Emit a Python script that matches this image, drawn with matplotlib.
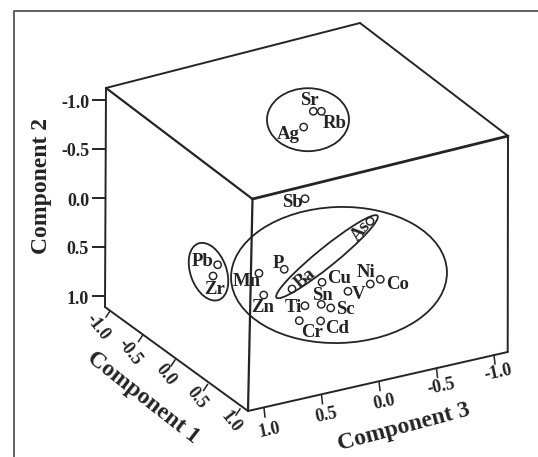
import numpy as np
import matplotlib.pyplot as plt
from matplotlib.patches import Ellipse

plt.rcParams['font.family'] = ['Liberation Serif', 'DejaVu Serif']
plt.rcParams['font.weight'] = 'bold'

INK = '#262324'

# element loadings
elements = ['Sb', 'As', 'Pb', 'Zr', 'Mn', 'P', 'Ba', 'Zn', 'Cu', 'Sn', 'Ti', 'Sc',
            'Cr', 'Cd', 'V', 'Ni', 'Co', 'Sr', 'Rb', 'Ag']
comp1 = [0.0, 0.2, -0.5, -0.5, 0.5, 0.5, 0.6, 0.6, 0.6, 0.7, 0.7, 0.7,
         0.8, 0.8, 0.7, 0.7, 0.7, -0.5, -0.5, -0.5]
comp2 = [-0.207, 0.046, 0.588, 0.692, 0.119, 0.138, 0.292, 0.287, 0.294, 0.452, 0.428, 0.511,
         0.502, 0.555, 0.382, 0.360, 0.336, -0.753, -0.734, -0.615]
comp3 = [0.0, -0.452, 0.477, 0.517, 0.683, 0.463, 0.452, 0.698, 0.191, 0.254, 0.396, 0.172,
         0.502, 0.316, 0.022, -0.172, -0.259, -0.355, -0.425, -0.271]

tick_values = [-1.0, -0.5, 0.0, 0.5, 1.0]
tick_labels = ['-1.0', '-0.5', '0.0', '0.5', '1.0']

# label offset from its point, in pixels (dx, dy, rotation)
label_offsets = {
    'Sb': (-13, 4, 0), 'As': (-9, 10, 50), 'Pb': (-15, -3, 0), 'Zr': (2, 13, 0),
    'Mn': (-12, 8, 0), 'P': (-6, -6, 0), 'Ba': (13, -10, 40), 'Zn': (-1, 12, 0),
    'Cu': (17, -4, 0), 'Sn': (1, -9, 0), 'Ti': (-12, 2, 0), 'Sc': (15, 2, 0),
    'Cr': (13, 12, 0), 'Cd': (16, 8, 0), 'V': (11, 3, 0), 'Ni': (-4, -12, 0),
    'Co': (17, 5, 0), 'Sr': (-4, -11, 0), 'Rb': (13, 12, 0), 'Ag': (-15, 7, 0),
}


def project(c1, c2, c3):
    # oblique view of the loading space onto the page
    c1, c2, c3 = np.asarray(c1), np.asarray(c2), np.asarray(c3)
    return 305 + 65 * c1 - 115 * c3, 219 + 49 * c1 + 98 * c2 + 26.5 * c3


def along(start, end, v):
    # position of tick value v between the -1 and +1 ends of an edge
    t = (v + 1) / 2
    return start[0] + t * (end[0] - start[0]), start[1] + t * (end[1] - start[1])


fig = plt.figure(figsize=(5.38, 4.57), dpi=100)
ax = fig.add_axes([0, 0, 1, 1])
ax.set_xlim(0, 538)
ax.set_ylim(457, 0)
ax.axis('off')

# outer frame
ax.plot([13.5, 13.5, 538], [457, 11, 11], color='#555555', lw=1.3)

# box edges
top_left, top_back, top_right, top_front = (106, 88), (360, 23), (508, 136), (252.5, 199)
bot_left, bot_front, bot_right = (105, 307), (248, 411), (507.7, 352)
edges = [(top_left, top_back, 1.4), (top_back, top_right, 1.4), (top_right, top_front, 2.0),
         (top_front, top_left, 1.6), (top_left, bot_left, 1.4), (bot_left, bot_front, 1.4),
         (bot_front, bot_right, 1.4), (bot_right, top_right, 1.4), (top_front, bot_front, 1.6)]
for a, b, width in edges:
    ax.plot([a[0], b[0]], [a[1], b[1]], color=INK, lw=width, solid_capstyle='round')

# Component 2 ticks
for v, lab in zip(tick_values, tick_labels):
    y = 198 + 98 * v
    ax.plot([93, 104], [y, y], color=INK, lw=1.4)
    ax.text(89, y + 3, lab, ha='right', va='center', fontsize=13, color=INK)

# Component 1 ticks
label_pos1 = [(98, 327), (130, 352), (166, 375), (197, 398), (231, 422)]
for v, lab, pos in zip(tick_values, tick_labels, label_pos1):
    x, y = along((110, 311), (240, 409), v)
    ax.plot([x, x - 4], [y, y + 6], color=INK, lw=1.1)
    ax.text(pos[0], pos[1], lab, ha='center', va='center', rotation=-52,
            rotation_mode='anchor', fontsize=13, color=INK)

# Component 3 ticks
label_pos3 = [(498, 373), (441, 387), (384, 402), (326, 415), (269, 430)]
for v, lab, pos in zip(tick_values, tick_labels, label_pos3):
    x, y = along((494, 355), (264, 408), v)
    ax.plot([x, x + 1], [y, y + 9], color=INK, lw=1.1)
    ax.text(pos[0], pos[1], lab, ha='center', va='center', rotation=12,
            rotation_mode='anchor', fontsize=13, color=INK)

# axis titles
ax.text(41, 186, 'Component 2', rotation=90, ha='center', va='center', fontsize=17, color=INK)
ax.text(143, 398, 'Component 1', rotation=-38, ha='center', va='center',
        rotation_mode='anchor', fontsize=17, color=INK)
ax.text(404, 427, 'Component 3', rotation=15, ha='center', va='center',
        rotation_mode='anchor', fontsize=17, color=INK)

# cluster outlines
clusters = [((339, 275), 216, 136, -2), ((327, 256.7), 130, 19, -39),
            ((208.5, 271.7), 60, 36, 70), ((308, 119.7), 82, 63, 0)]
for centre, w, h, angle in clusters:
    ax.add_patch(Ellipse(centre, w, h, angle=angle, fill=False, ec=INK, lw=1.3))

# points and their labels
px, py = project(comp1, comp2, comp3)
ax.scatter(px, py, s=28, facecolors='none', edgecolors=INK, linewidths=1.05, zorder=3)
for name, x, y in zip(elements, px, py):
    dx, dy, rot = label_offsets[name]
    ax.text(x + dx, y + dy, name, ha='center', va='center', rotation=rot,
            rotation_mode='anchor', fontsize=13.5, color=INK, zorder=4)

fig.savefig('out.png', dpi=100)
